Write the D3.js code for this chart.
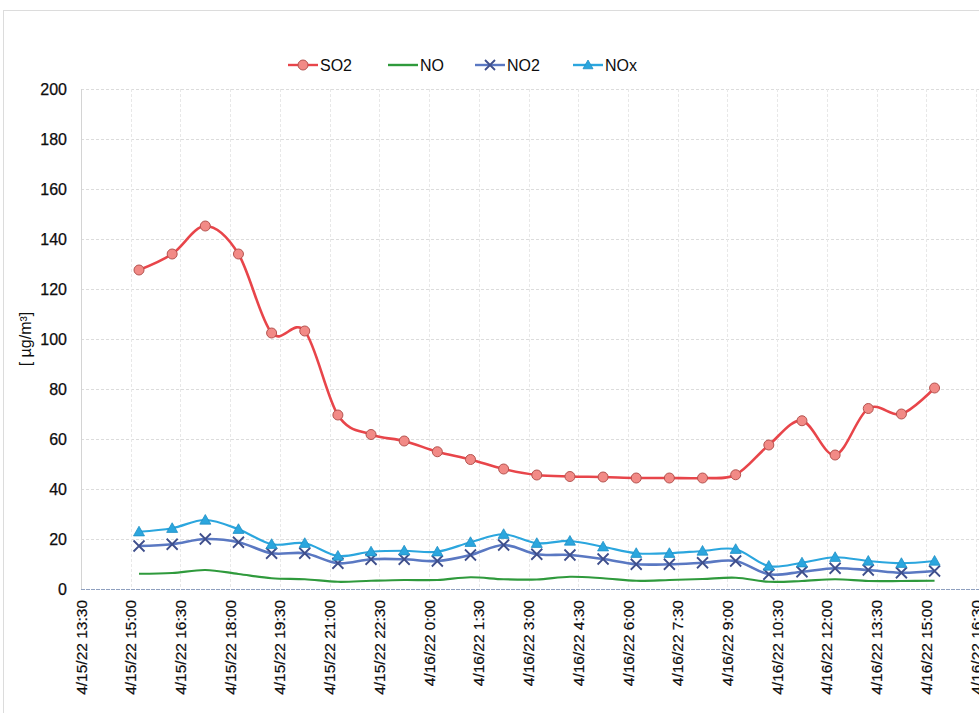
<!DOCTYPE html>
<html><head><meta charset="utf-8">
<script src="https://cdn.jsdelivr.net/npm/d3@7"></script>
<style>body{margin:0;background:#fff}svg{display:block;font-family:"Liberation Sans",Arial,sans-serif}</style>
</head><body><svg id="c" width="979" height="713"></svg>
<script>
const times = ["2022-04-15 15:15","2022-04-15 16:15","2022-04-15 17:15","2022-04-15 18:15","2022-04-15 19:15","2022-04-15 20:15","2022-04-15 21:15","2022-04-15 22:15","2022-04-15 23:15","2022-04-16 00:15","2022-04-16 01:15","2022-04-16 02:15","2022-04-16 03:15","2022-04-16 04:15","2022-04-16 05:15","2022-04-16 06:15","2022-04-16 07:15","2022-04-16 08:15","2022-04-16 09:15","2022-04-16 10:15","2022-04-16 11:15","2022-04-16 12:15","2022-04-16 13:15","2022-04-16 14:15","2022-04-16 15:15"];
const so2 = [127.6,134,145.2,134,102.4,103.2,69.6,61.8,59.2,54.9,51.8,48,45.6,45,44.8,44.4,44.4,44.4,45.7,57.6,67.3,53.6,72.2,70,80.4];
const no  = [6.1,6.4,7.6,6.0,4.3,3.9,2.9,3.3,3.6,3.6,4.7,3.9,3.8,4.9,4.3,3.3,3.6,4.0,4.5,2.9,3.2,3.9,3.2,3.2,3.3];
const no2 = [17.2,17.9,20,18.7,14.3,14.3,10.3,11.9,11.9,11.2,13.6,17.6,13.9,13.6,12,9.9,9.9,10.5,11.2,5.9,6.9,8.3,7.6,6.5,7.2];
const nox = [22.9,24.3,27.6,23.9,17.9,18.3,13.2,14.9,15.3,14.9,18.7,21.9,18.3,19.2,16.9,14.3,14.3,15.2,15.9,9.2,10.5,12.7,11.2,10.3,11.2];
const xTicks = ["2022-04-15 13:30","2022-04-15 15:00","2022-04-15 16:30","2022-04-15 18:00","2022-04-15 19:30","2022-04-15 21:00","2022-04-15 22:30","2022-04-16 00:00","2022-04-16 01:30","2022-04-16 03:00","2022-04-16 04:30","2022-04-16 06:00","2022-04-16 07:30","2022-04-16 09:00","2022-04-16 10:30","2022-04-16 12:00","2022-04-16 13:30","2022-04-16 15:00","2022-04-16 16:30"];
const yTicks = [0,20,40,60,80,100,120,140,160,180,200];
const seriesNames = ["SO2","NO","NO2","NOx"];

const parse = d3.timeParse("%Y-%m-%d %H:%M");
const fmt = d3.timeFormat("%-m/%-d/%y %-H:%M");
const T = times.map(parse);
const XT = xTicks.map(parse);

const svg = d3.select("#c");
svg.append("rect").attr("x",3.5).attr("y",10.5).attr("width",1100).attr("height",800)
  .attr("fill","none").attr("stroke","#dcdcdc");

const x = d3.scaleTime().domain([XT[0], XT[XT.length-1]]).range([81, 976]);
const y = d3.scaleLinear().domain([0,200]).range([589, 89]);

// grid
const g = svg.append("g");
g.selectAll(".hg").data(yTicks.filter(d=>d>0)).join("line")
  .attr("x1",81).attr("x2",979).attr("y1",d=>y(d)+0.5).attr("y2",d=>y(d)+0.5)
  .attr("stroke","#dcdcdc").attr("stroke-dasharray","3,2");
g.selectAll(".vg").data(XT).join("line")
  .attr("x1",d=>Math.round(x(d))+0.5).attr("x2",d=>Math.round(x(d))+0.5).attr("y1",89).attr("y2",589)
  .attr("stroke","#e8e8e8").attr("stroke-dasharray","3,2");
// axes
g.append("line").attr("x1",81.5).attr("x2",81.5).attr("y1",89).attr("y2",589).attr("stroke","#d4d4d4");
g.append("line").attr("x1",81).attr("x2",979).attr("y1",589.5).attr("y2",589.5)
  .attr("stroke","#8fa0bf").attr("stroke-width",1.2).attr("stroke-dasharray","4,1");

// y tick labels
svg.append("g").selectAll("text").data(yTicks).join("text")
  .attr("x",67).attr("y",d=>y(d)).attr("dy","0.36em").attr("text-anchor","end")
  .attr("font-size",16).attr("fill","#0d0d0d").attr("stroke","#0d0d0d").attr("stroke-width",0.25).text(d=>d);
// x tick labels
svg.append("g").selectAll("text").data(XT).join("text")
  .attr("transform",d=>`translate(${x(d)},${600}) rotate(-90)`)
  .attr("dy","0.36em").attr("text-anchor","end").attr("font-size",15.5).attr("fill","#0d0d0d")
  .attr("stroke","#0d0d0d").attr("stroke-width",0.2)
  .text(d=>fmt(d));
// y axis title
svg.append("text").attr("transform","translate(25,339) rotate(-90)")
  .attr("text-anchor","middle").attr("dy","0.36em").attr("font-size",16).attr("fill","#0d0d0d")
  .text("[ µg/m³]");

const curve = d3.curveCardinal.tension(0);
const line = vals => d3.line().x((d,i)=>x(T[i])).y(d=>y(d)).curve(curve)(vals);

const col = {SO2:"#e8454a", NO:"#2f9a3c", NO2:"#5a78c2", NOx:"#2ba6de"};

svg.append("path").attr("d",line(no)).attr("fill","none").attr("stroke",col.NO).attr("stroke-width",2.2);
svg.append("path").attr("d",line(no2)).attr("fill","none").attr("stroke",col.NO2).attr("stroke-width",2.6);
svg.append("path").attr("d",line(nox)).attr("fill","none").attr("stroke",col.NOx).attr("stroke-width",2.2);
svg.append("path").attr("d",line(so2)).attr("fill","none").attr("stroke",col.SO2).attr("stroke-width",2.6);

function xMark(sel, cx, cy, s){
  sel.append("path").attr("d",`M${cx-s},${cy-s}L${cx+s},${cy+s}M${cx-s},${cy+s}L${cx+s},${cy-s}`)
    .attr("stroke","#3f4f8c").attr("stroke-width",1.8).attr("fill","none");
}
function triMark(sel, cx, cy, s){
  sel.append("path").attr("d",`M${cx},${cy-s}L${cx+s},${cy+s*0.75}L${cx-s},${cy+s*0.75}Z`)
    .attr("fill",col.NOx).attr("stroke","#1f8fc4").attr("stroke-width",0.8);
}
function cMark(sel, cx, cy, r){
  sel.append("circle").attr("cx",cx).attr("cy",cy).attr("r",r)
    .attr("fill","#f28a86").attr("stroke","#b4534f").attr("stroke-width",1);
}
const mk = svg.append("g");
no2.forEach((v,i)=>xMark(mk, x(T[i]), y(v), 5.5));
nox.forEach((v,i)=>triMark(mk, x(T[i]), y(v), 5.5));
so2.forEach((v,i)=>cMark(mk, x(T[i]), y(v), 5));

// legend
const leg = svg.append("g");
const legX = [288, 388, 475, 573];
seriesNames.forEach((n,i)=>{
  const lx = legX[i], ly = 65;
  leg.append("line").attr("x1",lx).attr("x2",lx+30).attr("y1",ly).attr("y2",ly)
    .attr("stroke",col[n]).attr("stroke-width",2.4);
  if(n==="SO2") cMark(leg, lx+15, ly, 5);
  if(n==="NO2") xMark(leg, lx+15, ly, 5);
  if(n==="NOx") triMark(leg, lx+15, ly, 5);
  leg.append("text").attr("x",lx+32).attr("y",ly).attr("dy","0.36em")
    .attr("font-size",16).attr("fill","#0d0d0d").text(n);
});
</script></body></html>
